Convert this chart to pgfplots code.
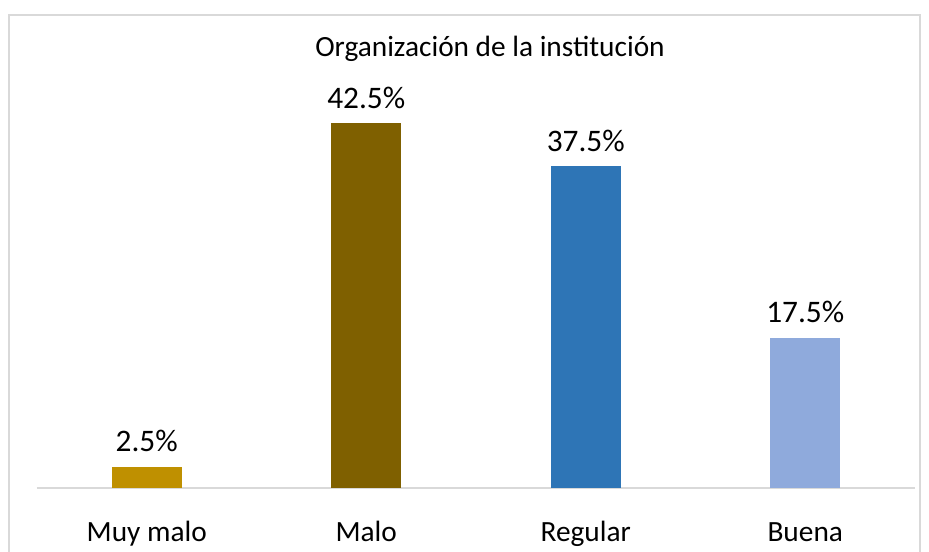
\documentclass[border=0pt]{standalone}
\usepackage{pgfplots}
\pgfplotsset{compat=1.18}
\usepackage{fontspec}
\setmainfont{Carlito}
\definecolor{cMuy}{HTML}{BF9000}
\definecolor{cMalo}{HTML}{7F6000}
\definecolor{cReg}{HTML}{2E75B6}
\definecolor{cBue}{HTML}{8FAADC}
\definecolor{cGrid}{HTML}{D9D9D9}
\begin{document}
\begin{tikzpicture}
  \path[use as bounding box] (-27.75pt,-47.25pt) rectangle (669pt,366pt);
  \draw[cGrid, line width=1.5pt] (-21pt,-60pt) -- (-21pt,354.75pt) -- (662.25pt,354.75pt) -- (662.25pt,-60pt);
  \begin{axis}[
      at={(0,0)}, anchor=south west,
      scale only axis,
      width=658.5pt, height=273.9pt,
      xmin=-0.5, xmax=3.5,
      ymin=0, ymax=42.5,
      axis x line*=bottom,
      axis y line=none,
      x axis line style={cGrid, line width=1.2pt, -},
      xtick={0,1,2,3},
      xticklabels={Muy malo, Malo, Regular, Buena},
      major tick length=0pt,
      xticklabel style={anchor=base, yshift=-39.75pt, font=\fontsize{22}{26}\selectfont},
      /pgf/number format/assume math mode=true,
      ybar, bar width=52.5pt, bar shift=0pt,
      nodes near coords={\pgfmathprintnumber[fixed, fixed zerofill, precision=1]{\pgfplotspointmeta}\%},
      nodes near coords style={anchor=base, yshift=11pt, font=\fontsize{23.5}{28}\selectfont},
      clip=false,
    ]
    \addplot[fill=cMuy, draw=none] coordinates {(0,2.5)};
    \addplot[fill=cMalo, draw=none] coordinates {(1,42.5)};
    \addplot[fill=cReg, draw=none] coordinates {(2,37.5)};
    \addplot[fill=cBue, draw=none] coordinates {(3,17.5)};
  \end{axis}
  \node[font=\fontsize{22}{26}\selectfont] at (339.75pt,329.5pt) {Organización de la institución};
\end{tikzpicture}
\end{document}
